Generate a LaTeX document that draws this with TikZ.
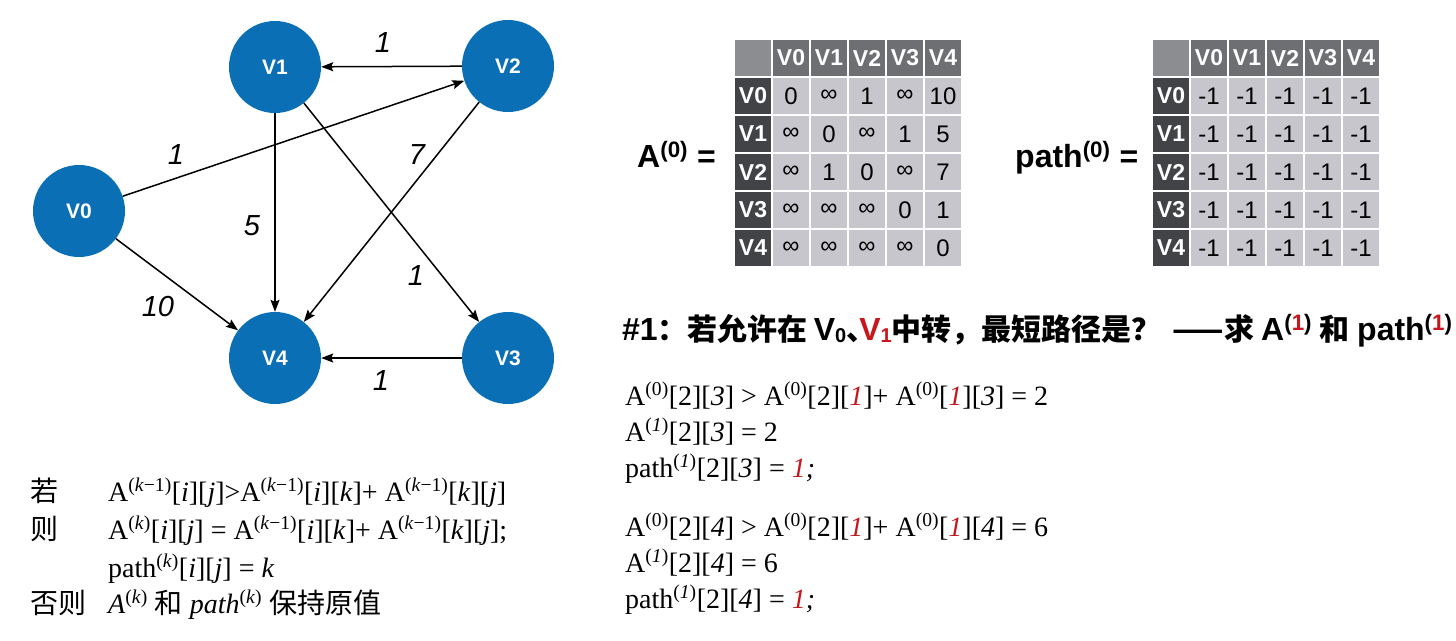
\documentclass[tikz,border=0pt]{standalone}
\usepackage{fontspec}
\setmainfont{Liberation Serif}
\setsansfont{Liberation Sans}
\newfontfamily\cjk{Noto Sans CJK SC}
\usetikzlibrary{arrows.meta,matrix}
\definecolor{nodeblue}{HTML}{0B6FB5}
\definecolor{hdrgray}{HTML}{6E6F73}
\definecolor{rowgray}{HTML}{424347}
\definecolor{cornergray}{HTML}{8C8D91}
\definecolor{cellgray}{HTML}{C6C6CC}
\definecolor{redt}{HTML}{C8161D}
\newcommand{\zh}[1]{{\cjk #1}}
\newcommand{\zht}[1]{{\cjk\fontsize{30}{32}\selectfont #1}}
\newcommand{\rd}[1]{\textcolor{redt}{#1}}
\newcommand{\sps}[1]{\textsuperscript{#1}}
\newcommand{\sbs}[1]{\raisebox{-2pt}{\fontsize{20}{22}\selectfont #1}}
\tikzset{
  vertex/.style={circle, fill=nodeblue, minimum size=92pt, inner sep=0pt, text=white,
    font=\sffamily\bfseries\fontsize{21}{24}\selectfont},
  edge/.style={line width=1.5pt, -{Stealth[length=12pt,width=9pt,inset=2pt]}},
  wlabel/.style={font=\sffamily\itshape\fontsize{29}{32}\selectfont},
  tbl/.style={matrix of nodes, nodes in empty cells, column sep=2pt, row sep=2pt,
    anchor=north west, inner sep=0pt, outer sep=0pt,
    nodes={minimum width=36pt, minimum height=36pt, inner sep=0pt, outer sep=0pt,
      anchor=center, fill=cellgray,
      font=\sffamily\fontsize{24}{26}\selectfont},
    row 1/.style={nodes={fill=hdrgray, text=white, font=\sffamily\bfseries\fontsize{23}{26}\selectfont}},
    column 1/.style={nodes={fill=rowgray, text=white, font=\sffamily\bfseries\fontsize{23}{26}\selectfont}},
    row 1 column 1/.style={nodes={fill=cornergray}}},
  eqlabel/.style={anchor=base west, inner sep=0pt, font=\sffamily\bfseries\fontsize{32}{36}\selectfont},
  fml/.style={anchor=base west, inner sep=0pt, font=\fontsize{28}{32}\selectfont},
  zhl/.style={anchor=base west, inner sep=0pt, font=\cjk\fontsize{28}{32}\selectfont},
  title/.style={anchor=base west, inner sep=0pt, font=\sffamily\bfseries\fontsize{32}{36}\selectfont}
}
\begin{document}
\begin{tikzpicture}[x=1pt,y=-1pt]
\useasboundingbox (0,0) rectangle (1456,640);
% graph
\node[vertex] (V0) at (79,211) {V0};
\node[vertex] (V1) at (275,67) {V1};
\node[vertex] (V2) at (508,66) {V2};
\node[vertex] (V3) at (508,358) {V3};
\node[vertex] (V4) at (275,358) {V4};
\draw[edge] (V2) -- (V1);
\draw[edge] (V0) -- (V2);
\draw[edge] (V1) -- (V4);
\draw[edge] (V1) -- (V3);
\draw[edge] (V2) -- (V4);
\draw[edge] (V0) -- (V4);
\draw[edge] (V3) -- (V4);
\node[wlabel] (w21) at (383,43) {1};
\node[wlabel] (w02) at (176,155) {1};
\node[wlabel] (w14) at (252,226) {5};
\node[wlabel] (w24) at (417,155) {7};
\node[wlabel] (w13) at (416,276) {1};
\node[wlabel] (w04) at (158,307) {10};
\node[wlabel] (w34) at (381,381) {1};
% tables
\node[eqlabel] (lA) at (637,167) {A\sps{(0)} =};
\matrix (A) [tbl] at (735,40) {
  & V0 & V1 & V2 & V3 & V4 \\
V0 & 0 & ∞ & 1 & ∞ & 10 \\
V1 & ∞ & 0 & ∞ & 1 & 5 \\
V2 & ∞ & 1 & 0 & ∞ & 7 \\
V3 & ∞ & ∞ & ∞ & 0 & 1 \\
V4 & ∞ & ∞ & ∞ & ∞ & 0 \\
};
\node[eqlabel] (lP) at (1015,167) {path\sps{(0)} =};
\matrix (P) [tbl] at (1153,40) {
  & V0 & V1 & V2 & V3 & V4 \\
V0 & -1 & -1 & -1 & -1 & -1 \\
V1 & -1 & -1 & -1 & -1 & -1 \\
V2 & -1 & -1 & -1 & -1 & -1 \\
V3 & -1 & -1 & -1 & -1 & -1 \\
V4 & -1 & -1 & -1 & -1 & -1 \\
};
% title
\node[title] (T) at (622,340) {\#1\zht{：若允许在}\hspace{6pt}V\sbs{0}\makebox[13pt][l]{\zht{、}}\rd{V\sbs{1}}\zht{中转，最短路径是？}\hspace{11pt}\zht{——求}\hspace{7pt}A\sps{(\rd{1})}\hspace{7pt}\zht{和}\hspace{8pt}path\sps{(\rd{1})}};
% right formulas
\node[fml] (r1) at (625,405) {A\sps{(0)}[2][\textit{3}] > A\sps{(0)}[2][\rd{\textit{1}}]+ A\sps{(0)}[\rd{\textit{1}}][\textit{3}] = 2};
\node[fml] (r2) at (625,441) {A\sps{(\textit{1})}[2][\textit{3}] = 2};
\node[fml] (r3) at (625,477) {path\sps{(\textit{1})}[2][\textit{3}] = \rd{\textit{1}}\textit{;}};
\node[fml] (r4) at (625,536) {A\sps{(0)}[2][\textit{4}] > A\sps{(0)}[2][\rd{\textit{1}}]+ A\sps{(0)}[\rd{\textit{1}}][\textit{4}] = 6};
\node[fml] (r5) at (625,572) {A\sps{(\textit{1})}[2][\textit{4}] = 6};
\node[fml] (r6) at (625,608) {path\sps{(\textit{1})}[2][\textit{4}] = \rd{\textit{1}}\textit{;}};
% left rule
\node[zhl] (c1) at (30,501) {若};
\node[zhl] (c2) at (30,539) {则};
\node[zhl] (c4) at (30,613) {否则};
\node[fml] (f1) at (108,501) {A\sps{(\textit{k}−1)}[\textit{i}][\textit{j}]>A\sps{(\textit{k}−1)}[\textit{i}][\textit{k}]+ A\sps{(\textit{k}−1)}[\textit{k}][\textit{j}]};
\node[fml] (f2) at (108,539) {A\sps{(\textit{k})}[\textit{i}][\textit{j}] = A\sps{(\textit{k}−1)}[\textit{i}][\textit{k}]+ A\sps{(\textit{k}−1)}[\textit{k}][\textit{j}];};
\node[fml] (f3) at (108,577) {path\sps{(\textit{k})}[\textit{i}][\textit{j}] = \textit{k}};
\node[fml] (f4) at (108,613) {\textit{A}\sps{(\textit{k})} \zh{和} \textit{path}\sps{(\textit{k})} \zh{保持原值}};
\end{tikzpicture}
\end{document}
